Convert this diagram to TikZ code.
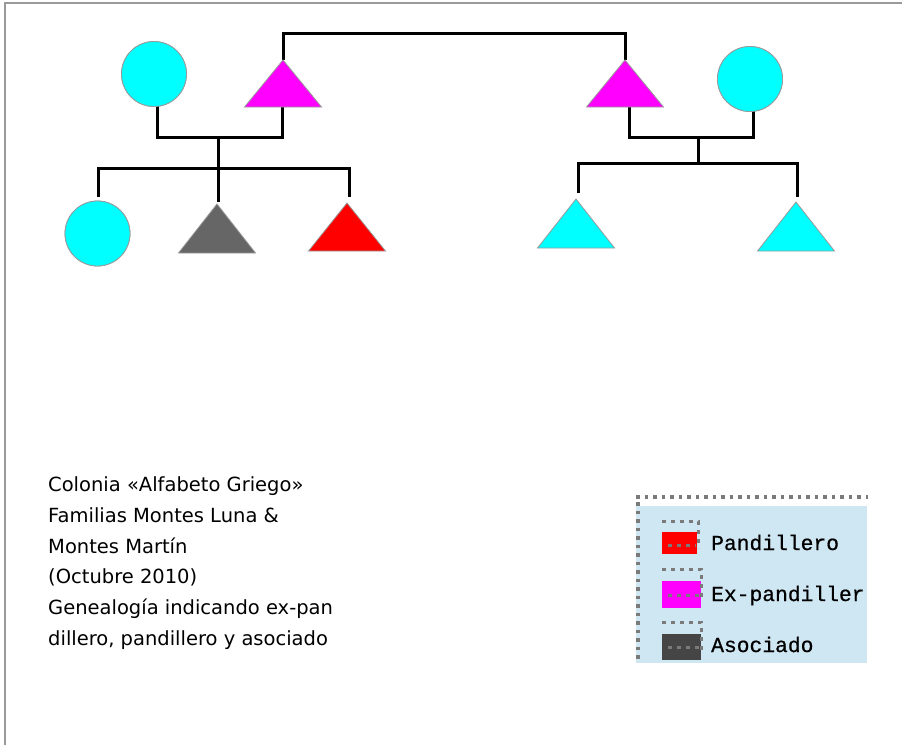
\documentclass[tikz,border=0pt]{standalone}
\usepackage{fontspec}
\setmainfont{DejaVu Sans}
\newfontfamily\legendfont[FakeBold=0.6]{Liberation Mono}
\definecolor{pcyan}{HTML}{00FFFF}
\definecolor{pmag}{HTML}{FF00FF}
\definecolor{pred}{HTML}{FF0000}
\definecolor{pgray}{HTML}{666666}
\definecolor{pdark}{HTML}{454545}
\definecolor{legbg}{HTML}{CFE6F3}
\definecolor{frame}{HTML}{9A9A9A}
\definecolor{dotgray}{HTML}{7A7A7A}
\tikzset{
  link/.style={line width=3pt, black},
  person/.style={draw=frame, line width=0.8pt},
  circ/.style={circle, person, fill=pcyan, minimum size=65pt, inner sep=0pt},
  caption/.style={anchor=base west, font=\fontsize{19.5}{22}\selectfont, inner sep=0pt},
  legtext/.style={anchor=base west, font=\legendfont\fontsize{21.3}{22}\selectfont, inner sep=0pt},
  dotline/.style={draw=dotgray, line width=3.5pt, dash pattern=on 3.5pt off 5pt},
  swframe/.style={draw=dotgray, line width=3pt, dash pattern=on 4pt off 5pt}
}
\begin{document}
\begin{tikzpicture}[x=1pt,y=-1pt]
\useasboundingbox (0,0) rectangle (902,745);
% page frame
\draw[frame, line width=1.5pt] (5,745) -- (5,3) -- (902,3);

% ---- people ----
\node[circ] (c1) at (154,74) {};
\coordinate (m1) at (283,60);
\coordinate (m2) at (625,60);
\node[circ] (c2) at (750,79) {};
\node[circ] (c3) at (97.5,233.5) {};
\coordinate (g1) at (217,204);
\coordinate (r1) at (347,203);
\coordinate (b1) at (576,199);
\coordinate (b2) at (796,202);

% junction coordinates
\coordinate (top1) at (283,33);
\coordinate (top2) at (625,33);
\coordinate (lc0) at (157,104);
\coordinate (lc1) at (157,137);
\coordinate (lc2) at (282,137);
\coordinate (lc3) at (282,107);
\coordinate (lj) at (218,137);
\coordinate (lk) at (218,168);
\coordinate (ll) at (98,168);
\coordinate (lr) at (349,168);
\coordinate (la) at (98,197);
\coordinate (lb) at (218,202);
\coordinate (lcc) at (349,197);
\coordinate (rc0) at (629,107);
\coordinate (rc1) at (629,137);
\coordinate (rc2) at (753,137);
\coordinate (rc3) at (753,110);
\coordinate (rj) at (698,137);
\coordinate (rk) at (698,163);
\coordinate (rl) at (578,163);
\coordinate (rr) at (797,163);
\coordinate (ra) at (578,193);
\coordinate (rb) at (797,197);

% ---- connectors ----
\draw[link] (m1) -- (top1) -- (top2) -- (m2);
\draw[link] (lc0) -- (lc1) -- (lc2) -- (lc3);
\draw[link] (lj) -- (lk);
\draw[link] (la) -- (ll) -- (lr) -- (lcc);
\draw[link] (lk) -- (lb);
\draw[link] (rc0) -- (rc1) -- (rc2) -- (rc3);
\draw[link] (rj) -- (rk);
\draw[link] (ra) -- (rl) -- (rr) -- (rb);

% ---- shapes ----
\node[circ] at (c1) {};
\node[circ] at (c2) {};
\node[circ] at (c3) {};
\draw[person, fill=pmag] (m1) -- ++(38.5,47) -- ++(-77,0) -- cycle;
\draw[person, fill=pmag] (m2) -- ++(38.5,47) -- ++(-77,0) -- cycle;
\draw[person, fill=pgray] (g1) -- ++(38.5,49) -- ++(-77,0) -- cycle;
\draw[person, fill=pred] (r1) -- ++(38.5,48) -- ++(-77,0) -- cycle;
\draw[person, fill=pcyan] (b1) -- ++(38.5,49) -- ++(-77,0) -- cycle;
\draw[person, fill=pcyan] (b2) -- ++(38.5,49) -- ++(-77,0) -- cycle;

% ---- caption ----
\node[caption] (t1) at (48,491) {Colonia «Alfabeto Griego»};
\node[caption] (t2) at (48,522) {Familias Montes Luna \&};
\node[caption] (t3) at (48,553) {Montes Martín};
\node[caption] (t4) at (48,583) {(Octubre 2010)};
\node[caption] (t5) at (48,614) {Genealogía indicando ex-pan};
\node[caption] (t6) at (48,645) {dillero, pandillero y asociado};

% ---- legend ----
\fill[legbg] (636,506) rectangle (867,663);
\draw[dotline] (636,497) -- (868,497);
\draw[dotline] (638,502) -- (638,663);

\fill[pred] (662,532) rectangle (697,554);
\draw[swframe] (662,521) -- (698,521) -- (698,548);
\draw[swframe] (668,545) -- (696,545);
\node[legtext] (l1) at (711,550) {Pandillero};

\fill[pmag] (662,581) rectangle (701,608);
\draw[swframe] (662,569) -- (701,569) -- (701,600);
\draw[swframe] (668,595) -- (700,595);
\node[legtext] (l2) at (711,601) {Ex-pandiller};

\fill[pdark] (662,634) rectangle (701,660);
\draw[swframe] (662,622) -- (701,622) -- (701,651);
\draw[swframe] (668,647) -- (700,647);
\node[legtext] (l3) at (711,652) {Asociado};
\end{tikzpicture}
\end{document}
